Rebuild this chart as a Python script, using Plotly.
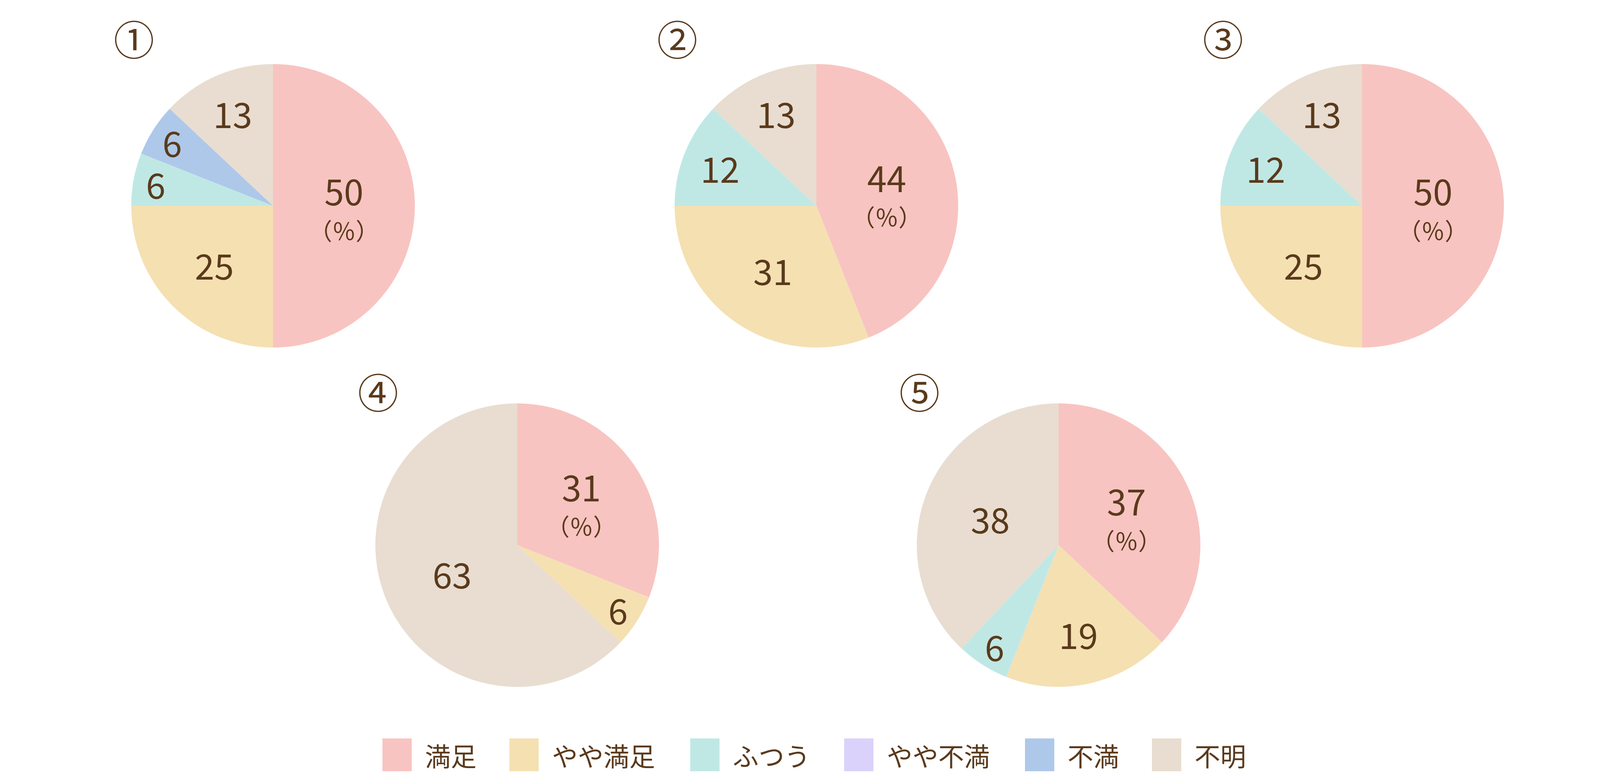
import plotly.graph_objects as go

W, H = 4167, 2000

categories = ["満足", "やや満足", "ふつう", "やや不満", "不満", "不明"]
colors = ["#F8C4C1", "#F5E0B2", "#BFE8E5", "#DAD2FB", "#AEC8EA", "#E8DDD0"]

pie_titles = ["①", "②", "③", "④", "⑤"]
values_1 = [50, 25, 6, 0, 6, 13]
values_2 = [44, 31, 12, 0, 0, 13]
values_3 = [50, 25, 12, 0, 0, 13]
values_4 = [31, 6, 0, 0, 0, 63]
values_5 = [37, 19, 6, 0, 0, 38]
all_values = [values_1, values_2, values_3, values_4, values_5]

# layout (pixels, from top-left)
centers = [(691, 519), (2082, 519), (3479, 519), (1316, 1388), (2702, 1388)]
R = 363
TEXT_COLOR = "#5A3A1C"
FONT = "Noto Sans CJK JP"
NUM_SIZE = 90
BASE_SIZE = 68   # sets line spacing between the number and （％）

fig = go.Figure()

for vals, (cx, cy) in zip(all_values, centers):
    labs, vs, cols, txt = [], [], [], []
    for i, v in enumerate(vals):
        if v <= 0:
            continue
        labs.append(categories[i])
        vs.append(v)
        cols.append(colors[i])
        num = f"<span style='font-size:{NUM_SIZE}px'>{v}</span>"
        if i == 0:
            txt.append(num + "<br><span style='font-size:60px'>（％）</span>")
        else:
            txt.append(num)
    fig.add_trace(go.Pie(
        labels=labs, values=vs, text=txt,
        textinfo="text", textposition="inside",
        insidetextorientation="horizontal",
        sort=False, direction="clockwise", rotation=0,
        marker=dict(colors=cols, line=dict(width=0)),
        textfont=dict(family=FONT, size=BASE_SIZE, color=TEXT_COLOR),
        domain=dict(x=[(cx - R) / W, (cx + R) / W],
                    y=[1 - (cy + R) / H, 1 - (cy - R) / H]),
        showlegend=False, hoverinfo="label+value"
    ))

# circled numbers
for t, (cx, cy) in zip(pie_titles, centers):
    ty = cy - 430 if cy < 1000 else cy - 396
    fig.add_annotation(
        x=(cx - 356) / W, y=1 - ty / H, xref="paper", yref="paper",
        text=t, showarrow=False, xanchor="center", yanchor="middle",
        font=dict(family=FONT, size=104, color=TEXT_COLOR)
    )

# custom legend (big swatches)
sw_w, sw_h = 75, 84
leg_y = 1925
x = 971
for cat, col in zip(categories, colors):
    fig.add_shape(
        type="rect", xref="paper", yref="paper",
        x0=x / W, x1=(x + sw_w) / W,
        y0=1 - (leg_y + sw_h / 2) / H, y1=1 - (leg_y - sw_h / 2) / H,
        fillcolor=col, line=dict(width=0)
    )
    fig.add_annotation(
        x=(x + sw_w + 32) / W, y=1 - leg_y / H, xref="paper", yref="paper",
        text=cat, showarrow=False, xanchor="left", yanchor="middle",
        font=dict(family=FONT, size=66, color=TEXT_COLOR)
    )
    x += sw_w + 32 + 69 * len(cat) + 80

fig.update_layout(
    width=W, height=H,
    margin=dict(l=0, r=0, t=0, b=0),
    paper_bgcolor="white", plot_bgcolor="white",
    uniformtext=dict(minsize=BASE_SIZE, mode="show"),
    font=dict(family=FONT, color=TEXT_COLOR)
)

fig.write_html("out.html")
